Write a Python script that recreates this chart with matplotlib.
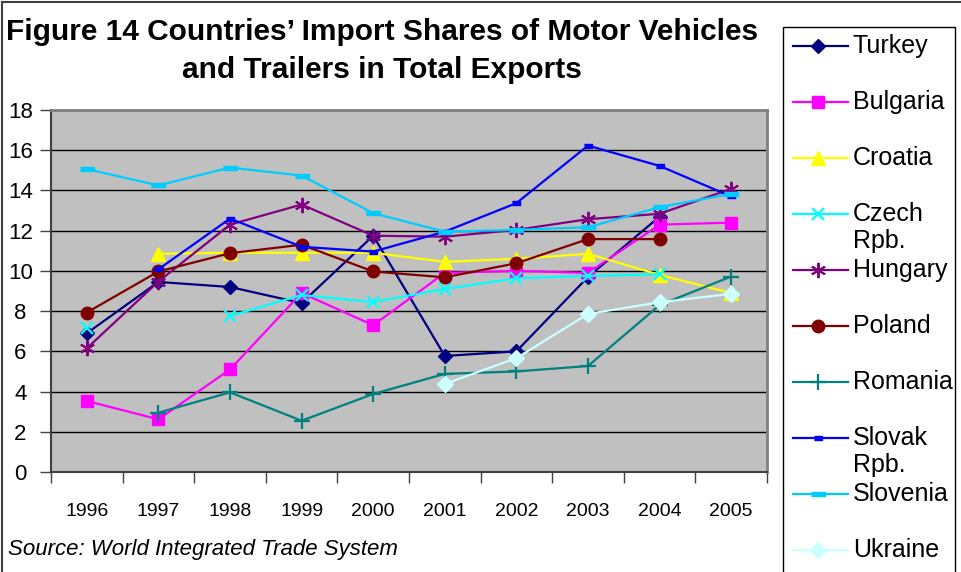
import numpy as np
import matplotlib
matplotlib.use("Agg")
import matplotlib.pyplot as plt
from matplotlib.lines import Line2D
from matplotlib.patches import Rectangle
from matplotlib import font_manager

nan = np.nan
years = ['1996', '1997', '1998', '1999', '2000', '2001', '2002', '2003', '2004', '2005']

turkey   = [6.9, 9.45, 9.2, 8.4, 11.75, 5.77, 6.0, 9.7, 12.7, nan]
bulgaria = [3.53, 2.62, 5.1, 8.9, 7.3, 9.9, 10.0, 9.9, 12.3, 12.4]
croatia  = [nan, 10.85, 10.9, 10.9, 10.9, 10.45, 10.6, 10.85, 9.8, 8.9]
czech    = [7.15, nan, 7.76, 8.8, 8.45, 9.1, 9.63, 9.75, 9.83, nan]
hungary  = [6.15, 9.47, 12.3, 13.3, 11.75, 11.7, 12.04, 12.57, 12.84, 14.08]
poland   = [7.93, 9.97, 10.88, 11.3, 9.97, 9.68, 10.38, 11.58, 11.58, nan]
romania  = [nan, 2.95, 3.96, 2.55, 3.88, 4.88, 5.0, 5.27, 8.3, 9.72]
slovak   = [nan, 10.08, 12.6, 11.2, 10.96, 11.95, 13.37, 16.23, 15.22, 13.7]
slovenia = [15.06, 14.25, 15.14, 14.74, 12.87, 11.95, 12.04, 12.17, 13.17, 13.83]
ukraine  = [nan, nan, nan, nan, nan, 4.38, 5.66, 7.86, 8.44, 8.86]

labels = ['Turkey', 'Bulgaria', 'Croatia', 'Czech\nRpb.', 'Hungary', 'Poland',
          'Romania', 'Slovak\nRpb.', 'Slovenia', 'Ukraine']
series = [turkey, bulgaria, croatia, czech, hungary, poland, romania, slovak, slovenia, ukraine]

dash_small = [(-1, -0.55), (1, -0.55), (1, 0.55), (-1, 0.55)]
dash_long = [(-1, -0.35), (1, -0.35), (1, 0.35), (-1, 0.35)]

styles = [
    dict(color='#000080', marker='D', ms=7),
    dict(color='#FF00FF', marker='s', ms=9),
    dict(color='#FFFF00', marker='^', ms=10),
    dict(color='#00FFFF', marker='x', ms=9, mew=1.6),
    dict(color='#800080', marker=(6, 2, 0), ms=11, mew=1.4),
    dict(color='#800000', marker='o', ms=9),
    dict(color='#008080', marker='+', ms=11, mew=1.6),
    dict(color='#0000FF', marker=dash_small, ms=6),
    dict(color='#00CCFF', marker=dash_long, ms=10),
    dict(color='#CCFFFF', marker='D', ms=8),
]

names = {f.name for f in font_manager.fontManager.ttflist}
narrow = 'Liberation Sans Narrow' if 'Liberation Sans Narrow' in names else 'Liberation Sans'
plt.rcParams['font.family'] = ['Liberation Sans', 'DejaVu Sans']

fig = plt.figure(figsize=(9.62, 5.72), dpi=100)
W, H = 962, 572
ax = fig.add_axes([51 / W, 1 - 472 / H, (767 - 51) / W, (472 - 110) / H])
ax.set_facecolor('#C0C0C0')

x = np.arange(len(years))
for vals, st in zip(series, styles):
    y = np.array(vals, dtype=float)
    ax.plot(x, y, color=st['color'], lw=1.6, marker=st['marker'], ms=st['ms'],
            mew=st.get('mew', 1.0), mec=st['color'], mfc=st['color'], clip_on=False, zorder=3)

ax.set_xlim(-0.5, 9.5)
ax.set_ylim(0, 18)
ax.set_yticks(np.arange(0, 19, 2))
ax.yaxis.grid(True, color='black', lw=1)
ax.set_axisbelow(True)
ax.set_yticklabels([str(v) for v in range(0, 19, 2)], fontsize=16)
for t in ax.get_yticklabels():
    t.set_horizontalalignment('center')
ax.tick_params(axis='y', direction='out', length=8, width=1, color='#404040', pad=14)

ax.set_xticks(np.arange(-0.5, 10, 1))
ax.set_xticklabels([])
ax.set_xticks(x, minor=True)
ax.set_xticklabels(years, minor=True, fontsize=14, family=narrow)
ax.tick_params(axis='x', which='major', direction='out', length=8, width=1, color='#404040')
ax.tick_params(axis='x', which='minor', length=0, pad=22)

for side in ['top', 'right']:
    ax.spines[side].set_color('#808080')
    ax.spines[side].set_linewidth(2)
ax.spines['left'].set_color('#404040')
ax.spines['bottom'].set_color('#404040')
ax.spines['left'].set_linewidth(1.5)
ax.spines['bottom'].set_linewidth(1.5)

fig.text(382 / W, 1 - 32 / H, "Figure 14 Countries\u2019 Import Shares of Motor Vehicles",
         ha='center', va='center', fontsize=21.5, fontweight='bold')
fig.text(382 / W, 1 - 70 / H, "and Trailers in Total Exports",
         ha='center', va='center', fontsize=21.5, fontweight='bold')
fig.text(8 / W, 1 - 549 / H, "Source: World Integrated Trade System",
         ha='left', va='center', fontsize=16, style='italic')

# outer frame lines
fig.add_artist(Line2D([2 / W, 2 / W], [0, 1 - 2 / H], color='#404040', lw=1.5))
fig.add_artist(Line2D([2 / W, 1], [1 - 2 / H, 1 - 2 / H], color='#404040', lw=1.5))

# legend drawn by hand to keep Excel's overlapping wrapped labels
fig.add_artist(Rectangle((783 / W, -0.05), (955 - 783) / W, 1.05 - 27 / H,
                         transform=fig.transFigure, fill=False, ec='black', lw=1))
for i, (lab, st) in enumerate(zip(labels, styles)):
    yc = 1 - (46 + 56 * i) / H
    fig.add_artist(Line2D([793 / W, 848 / W], [yc, yc], color=st['color'], lw=1.6))
    fig.add_artist(Line2D([818 / W], [yc], color=st['color'], marker=st['marker'],
                          ms=st['ms'], mew=st.get('mew', 1.0), mec=st['color'], mfc=st['color']))
    parts = lab.split('\n')
    fig.text(853 / W, yc, parts[0], ha='left', va='center', fontsize=18)
    if len(parts) > 1:
        fig.text(853 / W, yc - 27 / H, parts[1], ha='left', va='center', fontsize=18)

fig.savefig('out.png', dpi=100)
